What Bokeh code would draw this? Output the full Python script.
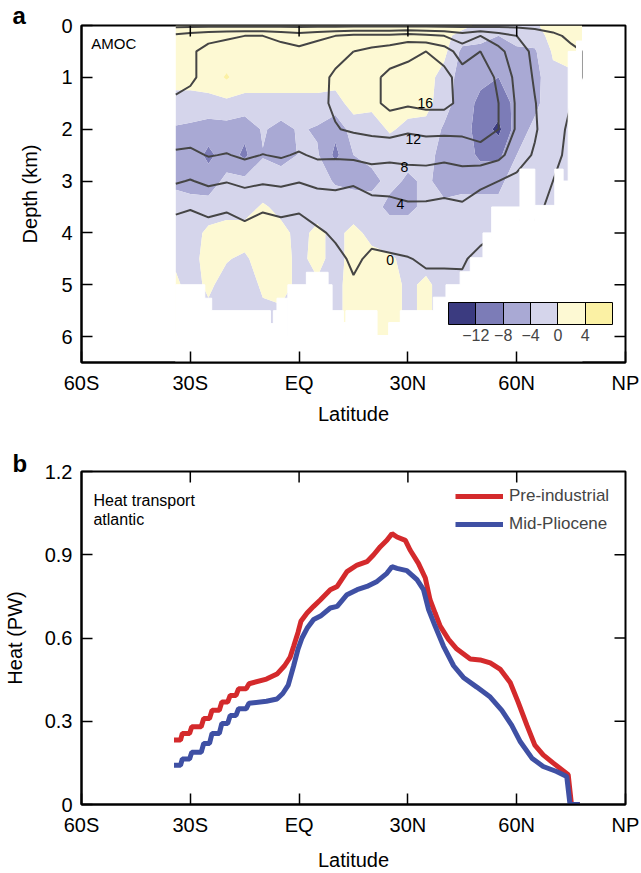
import numpy as np
from bokeh.plotting import figure
from bokeh.layouts import column
from bokeh.models import (Range1d, FixedTicker, Label, ColorBar, AllLabels,
                          LinearColorMapper, Legend, LegendItem)
from bokeh.embed import file_html
from bokeh.resources import INLINE

FONT = "Liberation Sans"

# ---------------- panel a : AMOC ----------------
LATS = [-34, -30, -25, -20, -15, -10, -5, 0, 5, 10, 15, 20, 25, 30, 35, 40, 45, 50, 55, 60, 65, 70, 75, 78]
DEPTHS = [0, 0.2, 0.5, 1.0, 1.5, 2.0, 2.5, 3.0, 3.5, 4.0, 4.5, 5.0, 5.5, 6.0]

# AMOC anomaly (Sv), one row per depth, one value per latitude
ANOM_000 = [1.5, 1.5, 1.5, 1.5, 1.5, 1.5, 1.5, 1.5, 1.5, 1.5, 1.5, 1.5, 1.5, 1.5, 1.5, 1.5, 1.5, -1.0, -1.0, -0.5, -0.5, 1.5, 1.5, 1.5]
ANOM_020 = [1.5, 1.5, 1.5, 1.5, 1.5, 1.5, 1.5, 1.5, 1.5, 1.5, 1.5, 1.5, 1.5, 1.5, 1.5, 1.5, -2.0, -3.0, -4.0, -3.0, -2.0, 1.5, 1.5, 1.5]
ANOM_050 = [1.5, 1.5, 1.5, 1.5, 1.5, 1.5, 1.5, 1.5, 1.5, 1.5, 1.5, 1.5, 1.5, 1.5, 1.5, 1.0, -5.0, -5.0, -6.0, -4.5, -4.5, 0.5, 1.0, 1.0]
ANOM_100 = [1.0, 1.0, 1.5, 4.5, 1.5, 1.5, 1.5, 1.5, 1.5, 1.5, 1.5, 1.5, 1.5, 1.5, 1.5, -1.5, -6.0, -7.0, -8.0, -6.0, -5.5, -1.0, -0.5, -0.5]
ANOM_150 = [-1.0, -1.0, -1.0, -1.0, -1.0, -1.0, -1.0, -1.0, -1.0, -1.5, 1.5, 1.0, 1.5, 1.5, 1.5, -2.5, -6.0, -9.0, -10.0, -7.0, -5.0, -1.5, -1.0, -1.0]
ANOM_200 = [-4.5, -5.0, -6.0, -5.5, -7.0, -3.5, -5.5, -3.5, -4.5, -7.0, -2.0, -2.0, 0.5, -1.0, -1.5, -4.5, -6.0, -10.0, -13.0, -6.0, -3.0, -1.5, -1.0, -1.0]
ANOM_250 = [-5.0, -5.5, -9.0, -6.0, -8.8, -4.2, -5.5, -3.8, -3.5, -9.0, -4.0, -3.0, -2.5, -3.0, -3.0, -5.0, -5.5, -9.0, -9.0, -4.0, -2.0, -1.0, -1.0, -1.0]
ANOM_300 = [-4.5, -5.0, -6.0, -3.0, -3.0, -2.5, -2.0, -2.5, -2.0, -4.5, -5.0, -5.0, -3.0, -4.5, -3.5, -5.0, -5.0, -5.0, -5.0, -2.0, -1.0, -0.5, -0.5, -0.5]
ANOM_350 = [-3.0, -3.0, -2.5, -1.5, -1.5, 0.5, -1.0, -1.5, -1.5, -1.5, -2.0, -2.5, -5.0, -5.0, -3.0, -3.5, -3.0, -3.0, -3.0, -1.5, -1.0, -0.5, -0.5, -0.5]
ANOM_400 = [-1.5, -2.0, 1.0, 1.5, 1.5, 1.5, 1.0, -1.0, 0.8, -1.0, 1.0, -1.0, -2.0, -2.0, -2.5, -2.0, -2.0, -2.0, -2.0, -1.0, -1.0, -0.5, -0.5, -0.5]
ANOM_450 = [-0.5, -1.5, 1.5, 0.2, -0.5, 1.5, 1.5, -1.0, 1.2, -1.5, 1.5, 1.0, 0.5, -1.0, -1.0, -1.5, -1.5, -1.5, -1.5, -1.0, -1.0, -0.5, -0.5, -0.5]
ANOM_500 = [0.5, -1.0, 0.5, -1.0, -1.5, 0.5, 1.5, -1.0, -0.5, -1.0, 1.5, 1.5, 1.0, -0.5, 0.5, -1.0, -1.0, -1.0, -1.0, -1.0, -1.0, -0.5, -0.5, -0.5]
ANOM_550 = [0.5, -1.0, -0.5, -1.0, -1.5, -0.5, -0.5, -1.0, -0.5, -1.0, 1.5, 1.5, 1.0, -0.5, 0.5, -1.0, -1.0, -1.0, -1.0, -1.0, -1.0, -0.5, -0.5, -0.5]
ANOM_600 = [0.5, -1.0, -0.5, -1.0, -1.5, -0.5, -0.5, -1.0, -0.5, -1.0, 1.0, 1.5, 1.0, -0.5, 0.5, -1.0, -1.0, -1.0, -1.0, -1.0, -1.0, -0.5, -0.5, -0.5]

# AMOC streamfunction (Sv) for the contour lines
PSI_000 = [-1.0] * 24
PSI_020 = [5, 6, 7, 7.5, 8, 8, 7, 6, 7, 8, 9, 9, 9, 10, 9, 8, 6, 8, 6, 4, 2, 0.5, -0.5, -0.5]
PSI_050 = [7, 7.5, 9, 9.5, 9.5, 10, 9.5, 9, 10, 11, 12, 13, 14, 15, 16, 14, 10, 12, 9, 6, 3, 1, 0.5, 0]
PSI_100 = [7, 7.5, 9, 9.5, 10, 10, 10, 10, 11, 12.5, 13.5, 15, 17, 17.5, 18, 17.5, 14, 15, 11, 7, 3.5, 1, 0.5, 0]
PSI_150 = [8.5, 9, 9.5, 10, 10.5, 10.5, 10.5, 10.5, 11.2, 12.5, 13.5, 15, 17, 16.5, 17, 17, 15, 16, 12, 7.5, 4.2, 1, 0, -0.5]
PSI_200 = [9.5, 10, 10, 10.5, 10.5, 10.5, 10.8, 10.5, 11.5, 11.8, 12.5, 13, 13.5, 12.5, 13, 13, 13, 14, 12, 7.5, 4.5, 1, -0.5, -0.5]
PSI_250 = [7.6, 7.2, 8.2, 7.8, 8.6, 7.9, 8.4, 7.6, 8.6, 8.5, 8.8, 9.2, 9.0, 9.5, 9.5, 9, 9.5, 10, 9, 6, 3.5, 0.5, -0.5, -0.5]
PSI_300 = [4.4, 3.8, 4.8, 4.2, 5.0, 4.5, 4.9, 4.2, 5.0, 5.2, 4.6, 5.8, 5.5, 5.5, 5.8, 5.5, 6, 5, 4, 3, 1.5, 0, -0.5, -0.5]
PSI_350 = [0.5, 0.2, 0.8, 0.4, 1.2, 0.4, 0.8, 0.5, 1.5, 1.8, 1.5, 2.5, 3.0, 3.6, 3.5, 3.2, 3.5, 2, 1, 0.5, 0.5, -0.5, -0.5, -0.5]
PSI_400 = [-1.2, -1.5, -1.2, -1.5, -1.0, -1.5, -1.2, -1.5, -0.5, 0.5, 1.0, 0.8, 1.0, 1.2, 1.5, 1.5, 1.0, 0.5, 0, -0.5, -0.5, -0.5, -0.5, -0.5]
PSI_450 = [-1.5, -1.6, -1.5, -1.6, -1.5, -1.6, -1.5, -1.6, -1.2, -0.8, 0.5, -0.5, -0.3, -0.1, 0.3, 0.3, 0.2, -0.5, -0.5, -0.8, -0.5, -0.5, -0.5, -0.5]
PSI_500 = [-1.2, -1.2, -1.2, -1.2, -1.2, -1.2, -1.2, -1.2, -1.2, -1.2, -0.3, -1, -1, -0.8, -0.5, -0.5, -0.3, -0.8, -0.8, -0.8, -0.5, -0.5, -0.5, -0.5]
PSI_550 = [-0.8] * 24
PSI_600 = [-0.5] * 24

FILL_LEVELS = [-16, -12, -8, -4, 0, 4, 8]
LINE_LEVELS = [0, 4, 8, 12, 16]
PALETTE = ["#3b3b80", "#7c7cb7", "#a9a9d4", "#d5d5eb", "#fdf9d3", "#fbf1a4"]
# positions of contour labels (lat, depth) for levels 16, 12, 8, 4, 0
CLABEL_LEVELS = [16, 12, 8, 4, 0]
CLABEL_LAT = [34.8, 31.5, 29.0, 27.9, 25.1]
CLABEL_DEPTH = [1.5, 2.18, 2.72, 3.45, 4.52]

# sea floor (bathymetry) by latitude band
FLOOR_LAT_W = [-34.0, -26.0, -24.1, -7.9, -7.1, -6.1, -3.1, 2.0, 8.0, 9.1, 12.2, 12.9, 21.5, 24.7,
               27.9, 37.0, 40.5, 44.4, 47.2, 50.7, 53.1, 60.9, 65.0, 70.5, 72.8, 74.2, 76.5]
FLOOR_LAT_E = FLOOR_LAT_W[1:] + [78.0]
FLOOR_DEPTH = [5.0, 5.26, 5.5, 5.75, 5.5, 5.26, 5.0, 4.76, 5.0, 5.5, 5.73, 5.5, 5.98, 5.73,
               5.5, 5.24, 5.0, 4.75, 4.48, 4.0, 3.5, 2.77, 3.47, 2.77, 3.0, 0.5, 0.3]

# ---------------- panel b : heat transport ----------------
PI_LAT = [-34.5, -32.7, -32.2, -30.2, -29.6, -27.0, -26.3, -24.7, -24.0, -22.0, -21.3, -19.7, -19.0, -17.4,
          -16.7, -14.6, -13.8, -9.0, -6.1, -4.0, -2.5, -1.5, -0.3, 0.5, 2.2, 4.0, 5.9, 8.6, 10.5, 13.2,
          16.0, 18.7, 20.5, 22.4, 24.2, 25.6, 27.0, 29.3, 30.6, 32.9, 34.8, 36.1, 37.5, 38.9, 41.2, 43.5,
          47.2, 49.9, 52.7, 55.4, 58.2, 60.4, 62.8, 65.0, 67.3, 70.1, 74.2, 75.1, 77.4]
PI_PW = [0.232, 0.232, 0.256, 0.256, 0.28, 0.28, 0.31, 0.31, 0.34, 0.34, 0.369, 0.369, 0.393, 0.393,
         0.417, 0.417, 0.435, 0.452, 0.47, 0.5, 0.53, 0.57, 0.62, 0.66, 0.69, 0.714, 0.738, 0.774, 0.786, 0.839,
         0.863, 0.875, 0.899, 0.929, 0.952, 0.976, 0.964, 0.952, 0.917, 0.869, 0.816, 0.738, 0.69, 0.643, 0.595, 0.56,
         0.524, 0.521, 0.51, 0.488, 0.44, 0.369, 0.286, 0.214, 0.179, 0.149, 0.107, 0.0, 0.0]
MP_LAT = [-34.5, -32.7, -32.2, -30.2, -29.6, -27.0, -26.3, -24.7, -24.0, -22.0, -21.3, -19.7, -19.0, -17.4,
          -16.7, -14.6, -13.8, -9.0, -6.1, -4.5, -3.0, -1.5, -0.3, 0.8, 2.2, 4.0, 5.9, 8.6, 10.5, 13.2,
          16.0, 18.7, 21.5, 24.2, 25.6, 27.0, 29.7, 32.5, 34.3, 35.7, 37.5, 39.8, 42.6, 45.3, 49.0, 52.7,
          55.9, 58.6, 61.0, 64.2, 67.3, 71.0, 73.8, 74.7, 77.4]
MP_PW = [0.141, 0.141, 0.164, 0.164, 0.188, 0.188, 0.22, 0.22, 0.256, 0.256, 0.292, 0.292, 0.321, 0.321,
         0.345, 0.345, 0.365, 0.372, 0.38, 0.40, 0.43, 0.5, 0.56, 0.6, 0.635, 0.667, 0.679, 0.708, 0.714, 0.756,
         0.774, 0.786, 0.804, 0.833, 0.857, 0.851, 0.843, 0.81, 0.774, 0.702, 0.643, 0.571, 0.5, 0.458, 0.423, 0.387,
         0.339, 0.286, 0.226, 0.167, 0.137, 0.119, 0.101, 0.0, 0.0]

LAT_TICKS = [-60, -30, 0, 30, 60, 90]
LAT_LABELS = ["60S", "30S", "EQ", "30N", "60N", "NP"]
INNER_LAT_TICKS = [-30, 0, 30, 60]
DEPTH_TICKS = [0, 1, 2, 3, 4, 5, 6]
INNER_DEPTH_TICKS = [1, 2, 3, 4, 5, 6]
HEAT_TICKS = [0, 0.3, 0.6, 0.9, 1.2]
HEAT_LABELS = ["0", "0.3", "0.6", "0.9", "1.2"]
INNER_HEAT_TICKS = [0.3, 0.6, 0.9]
RED = "#d42a2c"
BLUE = "#3f50a4"
LINE_GREY = "#454545"
TICK_LEN = 11


def style_axis(ax, ticks, labels=None):
    ax.ticker = FixedTicker(ticks=ticks)
    if labels is not None:
        ax.major_label_overrides = {t: l for t, l in zip(ticks, labels)}
    ax.major_tick_in = TICK_LEN
    ax.major_tick_out = 0
    ax.minor_tick_line_color = None
    ax.major_tick_line_width = 1.5
    ax.major_tick_line_color = "black"
    ax.axis_line_width = 2
    ax.axis_line_color = "black"
    ax.major_label_text_font = FONT
    ax.major_label_text_color = "black"
    ax.major_label_text_font_size = "20px"
    ax.major_label_standoff = 9
    ax.axis_label_text_font = FONT
    ax.axis_label_text_font_style = "normal"
    ax.axis_label_text_font_size = "20px"
    ax.axis_label_text_color = "black"


def inner_ticks(p, top_x, top_y, right_x, right_y):
    # tick marks on the top and right frame edges, pointing inwards
    p.ray(x=top_x, y=[top_y] * len(top_x), length=TICK_LEN, length_units="screen",
          angle=-np.pi / 2, line_color="black", line_width=1.5)
    p.ray(x=[right_x] * len(right_y), y=right_y, length=TICK_LEN, length_units="screen",
          angle=np.pi, line_color="black", line_width=1.5)


def panel_letter(p, standoff):
    # panel letter drawn as the figure title, pulled to the left edge of the page
    p.title.align = "left"
    p.title.offset = -69
    p.title.standoff = standoff
    p.title.text_font = FONT
    p.title.text_font_style = "bold"
    p.title.text_font_size = "24px"
    p.title.text_color = "black"


# ---------- figure a ----------
pa = figure(width=641, height=436, x_range=Range1d(-60, 90), y_range=Range1d(6.5, 0),
            title="a", output_backend="svg", toolbar_location=None,
            min_border_left=81, min_border_right=16, min_border_top=25, min_border_bottom=74)
pa.grid.visible = False
pa.outline_line_color = "black"
pa.outline_line_width = 2
panel_letter(pa, -6)

anom = np.array([ANOM_000, ANOM_020, ANOM_050, ANOM_100, ANOM_150, ANOM_200, ANOM_250,
                 ANOM_300, ANOM_350, ANOM_400, ANOM_450, ANOM_500, ANOM_550, ANOM_600])
psi = np.array([PSI_000, PSI_020, PSI_050, PSI_100, PSI_150, PSI_200, PSI_250,
                PSI_300, PSI_350, PSI_400, PSI_450, PSI_500, PSI_550, PSI_600])

pa.contour(LATS, DEPTHS, anom, levels=FILL_LEVELS, fill_color=PALETTE)
pa.contour(LATS, DEPTHS, psi, levels=LINE_LEVELS, line_color=LINE_GREY, line_width=2)

# sea floor mask
pa.quad(left=FLOOR_LAT_W, right=FLOOR_LAT_E, top=FLOOR_DEPTH,
        bottom=[6.5] * len(FLOOR_DEPTH), fill_color="white", line_color="white", line_width=1)

inner_ticks(pa, INNER_LAT_TICKS, 0, 90, INNER_DEPTH_TICKS)

for lev, la, de in zip(CLABEL_LEVELS, CLABEL_LAT, CLABEL_DEPTH):
    pa.add_layout(Label(x=la, y=de, text=str(lev), text_align="center", text_baseline="middle",
                        text_font=FONT, text_font_size="14px", text_color="black"))

pa.add_layout(Label(x=-57.3, y=0.34, text="AMOC", text_baseline="middle",
                    text_font=FONT, text_font_size="15px", text_color="black"))

style_axis(pa.xaxis[0], LAT_TICKS, LAT_LABELS)
pa.xaxis[0].axis_label = "Latitude"
pa.xaxis[0].axis_label_standoff = 6
style_axis(pa.yaxis[0], DEPTH_TICKS)
pa.yaxis[0].axis_label = "Depth (km)"
pa.yaxis[0].axis_label_standoff = 17

mapper = LinearColorMapper(palette=PALETTE, low=FILL_LEVELS[0], high=FILL_LEVELS[-1])
cb_ticks = FILL_LEVELS[1:-1]
cbar = ColorBar(color_mapper=mapper, orientation="horizontal", width=164, height=22,
                location=(367, 19), ticker=FixedTicker(ticks=cb_ticks),
                major_label_overrides={t: str(t).replace("-", "\u2212") for t in cb_ticks},
                major_label_policy=AllLabels(),
                major_tick_in=22, major_tick_out=0, major_tick_line_color="black",
                major_tick_line_width=1, minor_tick_line_color=None,
                bar_line_color="black", bar_line_width=1,
                major_label_text_font=FONT, major_label_text_font_size="16px",
                label_standoff=4, padding=0, margin=0,
                background_fill_alpha=0, border_line_color=None)
pa.add_layout(cbar)

# ---------- figure b ----------
pb = figure(width=641, height=437, x_range=Range1d(-60, 90), y_range=Range1d(0, 1.2),
            title="b", output_backend="svg", toolbar_location=None,
            min_border_left=81, min_border_right=16, min_border_top=35, min_border_bottom=66)
pb.grid.visible = False
pb.outline_line_color = "black"
pb.outline_line_width = 2
panel_letter(pb, -10)

r_pi = pb.line(PI_LAT, PI_PW, line_color=RED, line_width=5)
r_mp = pb.line(MP_LAT, MP_PW, line_color=BLUE, line_width=5)
inner_ticks(pb, INNER_LAT_TICKS, 1.2, 90, INNER_HEAT_TICKS)

legend = Legend(items=[LegendItem(label="Pre-industrial", renderers=[r_pi]),
                       LegendItem(label="Mid-Pliocene", renderers=[r_mp])],
                location=(374, 270), glyph_width=48, glyph_height=20, label_height=20,
                label_text_font=FONT, label_text_font_size="17px", label_standoff=6,
                spacing=8, padding=0, margin=0, border_line_color=None,
                background_fill_alpha=0)
pb.add_layout(legend)

pb.add_layout(Label(x=-56.7, y=1.095, text="Heat transport", text_baseline="middle",
                    text_font=FONT, text_font_size="16px", text_color="black"))
pb.add_layout(Label(x=-56.7, y=1.026, text="atlantic", text_baseline="middle",
                    text_font=FONT, text_font_size="16px", text_color="black"))

style_axis(pb.xaxis[0], LAT_TICKS, LAT_LABELS)
pb.xaxis[0].axis_label = "Latitude"
pb.xaxis[0].axis_label_standoff = 10
style_axis(pb.yaxis[0], HEAT_TICKS, HEAT_LABELS)
pb.yaxis[0].axis_label = "Heat (PW)"
pb.yaxis[0].axis_label_standoff = 16

layout = column(pa, pb, spacing=0)
open("out.html", "w").write(file_html(layout, INLINE))
